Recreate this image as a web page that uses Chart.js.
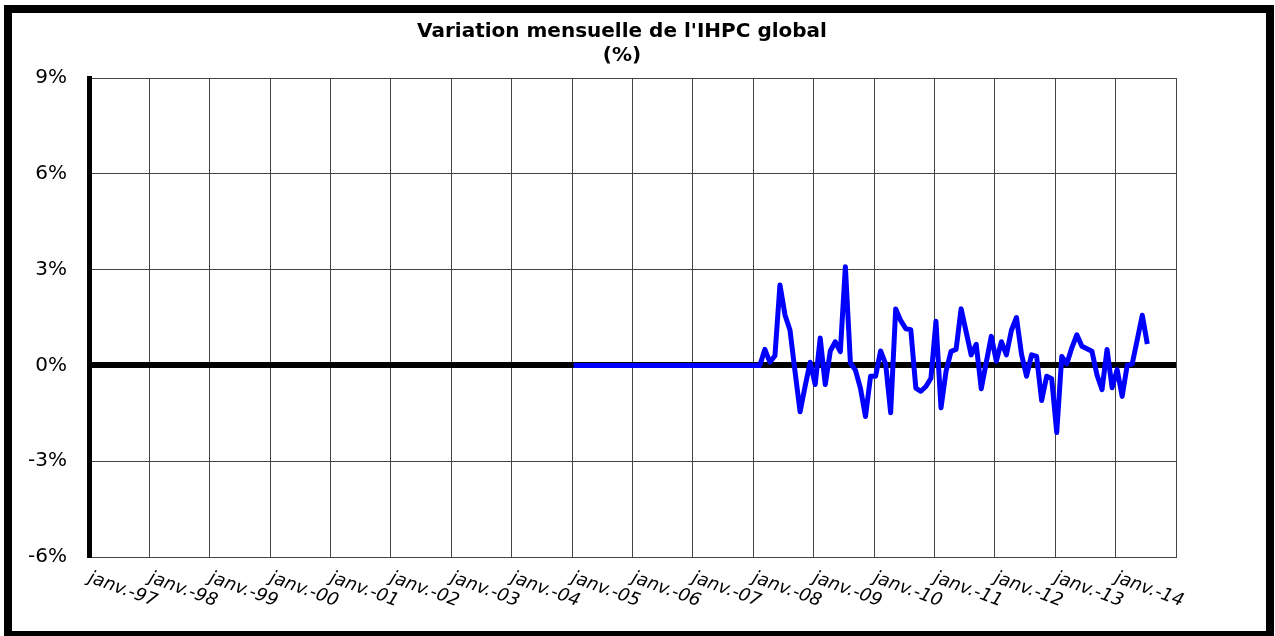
<!DOCTYPE html>
<html>
<head>
<meta charset="utf-8">
<script src="https://cdn.jsdelivr.net/npm/chart.js@4"></script>
<style>
html, body { margin: 0; padding: 0; background: #fff; overflow: hidden; }
#wrap { position: relative; width: 1275px; height: 636px; }
#frame { position: absolute; left: 4px; top: 5px; width: 1270px; height: 634px; border: 8px solid #000; box-sizing: border-box; pointer-events: none; }
</style>
</head>
<body>
<div id="wrap">
  <canvas id="myChart" width="1275" height="636"></canvas>
  <div id="frame"></div>
</div>
<script>
// axis labels, one per January (months counted from janv.-97)
const yearLabels = ['janv.-97', 'janv.-98', 'janv.-99', 'janv.-00', 'janv.-01', 'janv.-02',
  'janv.-03', 'janv.-04', 'janv.-05', 'janv.-06', 'janv.-07', 'janv.-08', 'janv.-09',
  'janv.-10', 'janv.-11', 'janv.-12', 'janv.-13', 'janv.-14'];
const yTicks = [-6, -3, 0, 3, 6, 9];
const titleLines = ["Variation mensuelle de l'IHPC global", '(%)'];

// monthly change in %, series starts janv.-05 (month 96)
const startMonth = 96;
const v2005 = [0, 0, 0, 0, 0, 0, 0, 0, 0, 0, 0, 0];
const v2006 = [0, 0, 0, 0, 0, 0, 0, 0, 0, 0, 0, 0];
const v2007 = [0, 0, 0, 0, 0, 0, 0, 0, 0, 0, 0, 0];
const v2008 = [0, 0, 0.5, 0.1, 0.3, 2.52, 1.58, 1.1, -0.2, -1.45, -0.65, 0.1];
const v2009 = [-0.6, 0.86, -0.6, 0.45, 0.74, 0.43, 3.09, 0.08, -0.15, -0.72, -1.6, -0.34];
const v2010 = [-0.34, 0.45, 0.05, -1.48, 1.77, 1.4, 1.15, 1.12, -0.71, -0.81, -0.66, -0.4];
const v2011 = [1.38, -1.33, -0.19, 0.44, 0.5, 1.77, 1.05, 0.33, 0.66, -0.73, 0.1, 0.91];
const v2012 = [0.13, 0.74, 0.33, 1.1, 1.5, 0.35, -0.34, 0.33, 0.28, -1.1, -0.34, -0.42];
const v2013 = [-2.1, 0.28, 0.05, 0.55, 0.96, 0.6, 0.52, 0.44, -0.3, -0.76, 0.5, -0.7];
const v2014 = [-0.13, -0.97, 0, 0.05, 0.8, 1.57, 0.67];

const values = [].concat(v2005, v2006, v2007, v2008, v2009, v2010, v2011, v2012, v2013, v2014);
const points = values.map((v, i) => ({ x: startMonth + i + 0.3, y: v }));

const titlePlugin = {
  id: 'twoLineTitle',
  afterDraw(chart) {
    const ctx = chart.ctx;
    ctx.save();
    ctx.font = 'bold 20px "DejaVu Sans"';
    ctx.fillStyle = '#000';
    ctx.textAlign = 'center';
    ctx.textBaseline = 'middle';
    ctx.fillText(titleLines[0], 622, 32);
    ctx.fillText(titleLines[1], 622, 56);
    ctx.restore();
  }
};

const xLabelsPlugin = {
  id: 'slantedLabels',
  afterDraw(chart) {
    const ctx = chart.ctx;
    const xs = chart.scales.x;
    ctx.save();
    ctx.font = 'italic 18px "DejaVu Sans"';
    ctx.fillStyle = '#000';
    ctx.textAlign = 'left';
    ctx.textBaseline = 'top';
    yearLabels.forEach((lab, i) => {
      const px = xs.getPixelForValue(i * 12);
      ctx.save();
      ctx.translate(px + 3, chart.chartArea.bottom + 12);
      ctx.rotate(20 * Math.PI / 180);
      ctx.fillText(lab, 0, 0);
      ctx.restore();
    });
    ctx.restore();
  }
};

const config = {
  type: 'line',
  data: {
    datasets: [{
      data: points,
      borderColor: '#0000ff',
      backgroundColor: '#0000ff',
      borderWidth: 5,
      pointRadius: 0,
      tension: 0,
      borderJoinStyle: 'round'
    }]
  },
  options: {
    responsive: false,
    animation: false,
    devicePixelRatio: 1,
    layout: { padding: { left: 0, right: 99, top: 78, bottom: 0 } },
    plugins: {
      legend: { display: false },
      title: { display: false },
      tooltip: { enabled: false }
    },
    scales: {
      x: {
        type: 'linear',
        min: 0,
        max: 216,
        ticks: { display: false, stepSize: 12 },
        grid: { color: '#444', lineWidth: 1, drawTicks: false },
        border: { display: true, color: '#444', width: 1 },
        afterFit: (scale) => { scale.height = 79; }
      },
      y: {
        min: yTicks[0],
        max: yTicks[yTicks.length - 1],
        afterBuildTicks: (scale) => { scale.ticks = yTicks.map(v => ({ value: v })); },
        ticks: {
          callback: (v) => v + '%',
          color: '#000',
          padding: 22,
          font: { family: 'DejaVu Sans', size: 20 }
        },
        grid: {
          drawTicks: false,
          color: (c) => c.tick && c.tick.value === 0 ? '#000' : '#444',
          lineWidth: (c) => c.tick && c.tick.value === 0 ? 6 : 1
        },
        border: { display: true, color: '#000', width: 5 },
        afterFit: (scale) => { scale.width = 89; }
      }
    }
  },
  plugins: [titlePlugin, xLabelsPlugin]
};

var chart = new Chart(document.getElementById('myChart'), config);
</script>
</body>
</html>
